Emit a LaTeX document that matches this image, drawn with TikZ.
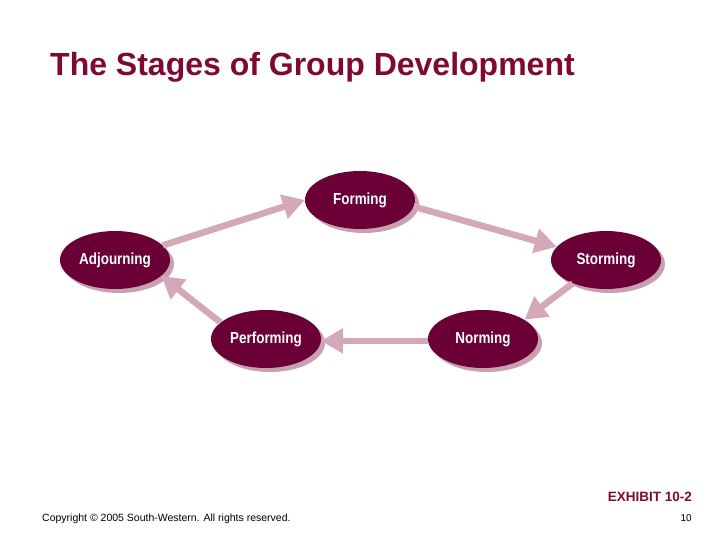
\documentclass[tikz,border=0pt]{standalone}
\usepackage{fontspec}
\setmainfont{Liberation Sans}
\newfontfamily\nodefont[FakeStretch=0.84]{Liberation Sans}
\usetikzlibrary{shapes.geometric,arrows.meta}
\definecolor{maroon}{HTML}{6A0035}
\definecolor{shade}{HTML}{C9A0B2}
\definecolor{arrowpink}{HTML}{D4A7B9}
\definecolor{titlered}{HTML}{7E0A33}
\tikzset{
  stage/.style={ellipse, fill=maroon, minimum width=110pt, minimum height=58pt, inner sep=0pt,
    text=white, font=\nodefont\bfseries\fontsize{16}{18}\selectfont},
  stageshadow/.style={ellipse, fill=shade, minimum width=110pt, minimum height=58pt, inner sep=0pt},
  flow/.style={draw=arrowpink, line width=6.5pt, -{Triangle[length=22pt,width=24pt]}}
}
\begin{document}
\begin{tikzpicture}[x=1pt,y=-1pt]
\useasboundingbox (0,0) rectangle (720,540);
% shadows
\foreach \x/\y in {360/200,115/260,606/260,266/339,483/339}
  \node[stageshadow] at (\x+4,\y+4) {};
% stages
\node[stage] (F) at (360,200) {Forming};
\node[stage] (A) at (115,260) {Adjourning};
\node[stage] (S) at (606,260) {Storming};
\node[stage] (P) at (266,339) {Performing};
\node[stage] (N) at (483,339) {Norming};
% arrows
\draw[flow] (A.17) -- (F.180);
\draw[flow] (F.353) -- (S.165);
\draw[flow] (S.215) -- (N.25);
\draw[flow] (N.182) -- (P.358);
\draw[flow] (P.160) -- (A.341);
% texts
\node[anchor=base west, text=titlered, font=\bfseries\fontsize{32}{36}\selectfont, inner sep=0pt] (title) at (50,76) {The Stages of Group Development};
\node[anchor=base east, text=titlered, font=\bfseries\fontsize{13.5}{15}\selectfont, inner sep=0pt] (exhibit) at (692,501) {EXHIBIT 10-2};
\node[anchor=base west, font=\fontsize{10.5}{12}\selectfont, inner sep=0pt] (copy) at (42,521) {Copyright © 2005 South-Western. All rights reserved.};
\node[anchor=base east, font=\fontsize{10}{12}\selectfont, inner sep=0pt] (page) at (692,521) {10};
\end{tikzpicture}
\end{document}
